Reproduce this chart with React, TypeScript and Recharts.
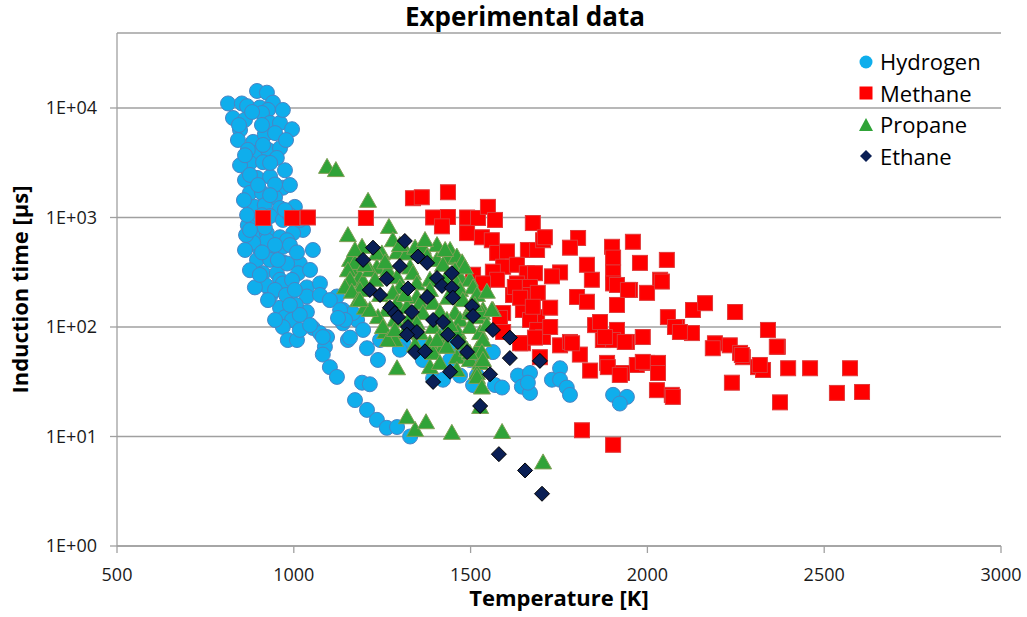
import React from 'react'
import { ScatterChart, Scatter, XAxis, YAxis, CartesianGrid } from 'recharts'

// [temperature K, induction time µs]
const hydrogen: [number, number][] = [
  [896, 14300], [924, 13800], [814, 11000], [853, 11000], [868, 10400], [904, 10100], [941, 11200],
  [927, 9600], [828, 8100], [862, 7800], [910, 9000], [933, 7300], [961, 7300], [995, 6400],
  [848, 6300], [885, 4900], [918, 5700], [947, 5900], [896, 3900], [927, 4150], [961, 4300],
  [876, 3150], [913, 3200], [952, 3500], [975, 2700], [862, 2200], [896, 2300], [933, 2350],
  [969, 1870], [876, 1680], [910, 1680], [947, 1530], [1003, 1250], [890, 1250], [918, 1300],
  [961, 1220], [896, 950], [933, 1030], [969, 950], [1026, 770], [890, 690], [924, 720],
  [961, 660], [998, 720], [1054, 505], [899, 540], [938, 540], [969, 540], [896, 410],
  [933, 410], [969, 390], [1017, 380], [913, 310], [952, 310], [1012, 310], [924, 620],
  [981, 620], [885, 590], [981, 380], [961, 270], [933, 190], [969, 250], [1037, 230],
  [1074, 250], [961, 150], [1037, 190], [1074, 196], [975, 123], [995, 116], [969, 100],
  [1037, 137], [983, 76], [1009, 76], [1054, 98], [1074, 88], [1094, 81], [1088, 66],
  [1082, 56], [1102, 43], [1122, 35], [1122, 190], [1150, 134], [1179, 116], [1196, 94],
  [1153, 76], [1207, 64], [1193, 31], [1215, 30], [1173, 21.5], [1207, 17.5], [1235, 14.2],
  [1139, 143], [1167, 134], [1263, 12], [1292, 12.2], [1329, 10], [1082, 81], [1159, 80],
  [1238, 50], [1244, 76], [1139, 108], [1309, 72], [1300, 62], [1365, 50], [1394, 34],
  [1422, 33], [1470, 36], [1518, 36], [1507, 29.5], [1563, 59], [1569, 29.5], [1589, 28],
  [1634, 36], [1645, 28.5], [1668, 38], [1668, 25], [1662, 31], [1730, 33], [1753, 42],
  [1753, 33], [1772, 28], [1781, 24], [1903, 24], [1942, 23], [1922, 20],
  [842, 5100], [870, 4150], [910, 7000], [848, 3000], [876, 2450], [947, 2000], [910, 1050],
  [870, 850], [989, 1050], [989, 560], [862, 505], [876, 330], [921, 240], [947, 218],
  [978, 196], [1006, 159], [1017, 129], [1102, 176], [1131, 143], [1145, 116], [1125, 121],
  [1428, 85], [1456, 68], [1498, 50], [1442, 50], [1357, 76],
  [845, 6990], [882, 9190], [969, 9600], [978, 5100], [913, 4600], [862, 3700], [933, 3150],
  [989, 1980], [899, 1980], [859, 1440], [933, 1600], [975, 1170], [868, 1054], [1017, 948],
  [918, 810], [947, 561], [910, 480], [1009, 480], [865, 692], [995, 269], [890, 230],
  [927, 176], [904, 299], [989, 159], [947, 116], [1017, 94], [1046, 104], [1003, 218],
  [1046, 332], [955, 409], [876, 769],
]

const methane: [number, number][] = [
  [913, 990], [995, 990], [1040, 1000], [1204, 990], [1337, 1500], [1362, 1530], [1436, 1700],
  [1394, 1000], [1436, 1010], [1419, 830], [1490, 1000], [1521, 990], [1549, 1250], [1569, 950],
  [1676, 890], [1490, 720], [1532, 660], [1560, 620], [1575, 475], [1603, 490], [1662, 505],
  [1688, 505], [1705, 620], [1592, 355], [1631, 370], [1659, 310], [1682, 310], [1507, 300],
  [1563, 320], [1575, 270], [1631, 250], [1668, 232], [1620, 196], [1659, 196], [1690, 205],
  [1592, 134], [1583, 121], [1648, 143], [1688, 123], [1668, 116], [1688, 94], [1648, 71],
  [1705, 81], [1696, 53], [1710, 660], [1804, 650], [1900, 540], [1959, 600], [1781, 530],
  [1903, 430], [1979, 385], [2055, 410], [1753, 315], [1829, 370], [1903, 315], [1730, 290],
  [1843, 270], [1903, 250], [2036, 270], [1535, 250], [1625, 232], [1951, 218], [1640, 185],
  [1676, 153], [1725, 150], [1801, 188], [1829, 170], [1914, 159], [1999, 205], [2129, 143],
  [1852, 104], [1914, 94], [2058, 123], [2084, 100], [2126, 88], [1592, 90], [1682, 80],
  [1725, 100], [1753, 68], [1781, 73], [1874, 76], [1903, 76], [1942, 73], [1987, 81],
  [1640, 71], [1809, 56], [1886, 47], [1970, 45], [1999, 47], [2030, 47], [1928, 38],
  [1838, 40], [2027, 26.5], [2069, 24], [1914, 242], [1945, 218], [2041, 260], [2163, 165],
  [2248, 137], [1866, 111], [1880, 81], [1936, 73], [2078, 100], [2092, 90], [2341, 94],
  [2191, 71], [2185, 64], [2233, 68], [2262, 58], [2270, 53], [2369, 66], [1888, 43],
  [1922, 36.5], [1987, 48], [2030, 38], [2313, 43], [2327, 40.5], [2398, 42], [2460, 42],
  [2573, 42], [2239, 31], [2072, 23], [2375, 20.5], [2536, 25], [2607, 25.5], [1815, 11.4],
  [1903, 8.4], [1787, 71], [2267, 55.5], [2318, 45], [2366, 66],
]

const propane: [number, number][] = [
  [1094, 2900], [1119, 2710], [1210, 1420], [1153, 690], [1269, 820], [1193, 540], [1249, 470],
  [1280, 620], [1159, 410], [1167, 330], [1173, 385], [1235, 470], [1292, 480], [1320, 470],
  [1343, 530], [1365, 530], [1405, 560], [1442, 505], [1153, 330], [1187, 285], [1235, 350],
  [1266, 330], [1329, 350], [1377, 440], [1405, 410], [1433, 425], [1461, 440], [1476, 390],
  [1159, 270], [1196, 260], [1292, 285], [1337, 310], [1422, 370], [1456, 330], [1470, 285],
  [1145, 230], [1187, 218], [1300, 230], [1348, 250], [1385, 270], [1428, 270], [1461, 250],
  [1498, 270], [1244, 196], [1280, 205], [1348, 188], [1385, 218], [1470, 218], [1507, 230],
  [1292, 166], [1320, 152], [1357, 166], [1394, 166], [1436, 185], [1478, 176], [1518, 196],
  [1263, 143], [1329, 123], [1365, 134], [1413, 137], [1456, 134], [1493, 134], [1546, 210],
  [1563, 143], [1238, 123], [1286, 116], [1348, 108], [1394, 100], [1433, 116], [1470, 116],
  [1518, 123], [1535, 143], [1258, 90], [1314, 90], [1357, 88], [1413, 81], [1464, 90],
  [1498, 100], [1527, 88], [1286, 76], [1385, 71], [1422, 66], [1478, 71], [1518, 62],
  [1535, 76], [1292, 42], [1394, 58], [1461, 53], [1498, 50], [1527, 47], [1385, 43],
  [1518, 38], [1252, 100], [1266, 76], [1320, 15], [1343, 11.5], [1374, 13.5], [1447, 10.8],
  [1518, 35], [1532, 28], [1527, 18.6], [1589, 11], [1705, 5.8], [1405, 76], [1433, 66],
  [1413, 47], [1461, 40.5], [1490, 62], [1532, 59], [1535, 50], [1532, 134], [1560, 143],
  [1498, 134], [1498, 58], [1164, 210], [1182, 176], [1201, 150], [1215, 330], [1230, 270],
  [1173, 505], [1201, 368], [1258, 390], [1300, 561], [1371, 623], [1428, 505], [1484, 350],
  [1512, 159], [1314, 196], [1286, 94], [1343, 68.5], [1442, 104], [1546, 104], [1215, 143],
  [1187, 176],
]

const ethane: [number, number][] = [
  [1224, 530], [1314, 610], [1196, 410], [1300, 360], [1351, 440], [1377, 385], [1447, 310],
  [1263, 275], [1215, 218], [1244, 196], [1323, 225], [1405, 280], [1419, 237], [1447, 228],
  [1450, 185], [1272, 150], [1286, 134], [1295, 123], [1334, 137], [1377, 188], [1504, 155],
  [1507, 126], [1394, 116], [1422, 111], [1323, 100], [1348, 90], [1320, 85], [1436, 85],
  [1464, 73], [1490, 59], [1563, 94], [1611, 80], [1611, 52], [1696, 49], [1343, 59],
  [1371, 60], [1442, 39], [1555, 37], [1394, 31.5], [1527, 19], [1580, 6.9], [1654, 4.9],
  [1702, 3.0],
]

const xTicks = [500, 1000, 1500, 2000, 2500, 3000]
const yTicks = [1, 10, 100, 1000, 10000]

const toPoints = (arr: [number, number][]) => arr.map(([x, y]) => ({ x, y }))

const FONT = '"Open Sans", "DejaVu Sans", sans-serif'
const AXIS = '#a0a0a0'

const HydrogenDot = (p: any) => (
  <circle cx={p.cx} cy={p.cy} r={7.5} fill="#0FAEEC" stroke="#4A84C4" strokeWidth={1} />
)
const MethaneDot = (p: any) => (
  <rect x={p.cx - 7.5} y={p.cy - 7.5} width={15} height={15} fill="#FF0000" stroke="#E03A3A" strokeWidth={1} />
)
const PropaneDot = (p: any) => (
  <polygon
    points={`${p.cx},${p.cy - 8.5} ${p.cx + 8.5},${p.cy + 6.5} ${p.cx - 8.5},${p.cy + 6.5}`}
    fill="#30A338"
    stroke="#7F9F55"
    strokeWidth={1}
  />
)
const EthaneDot = (p: any) => (
  <polygon
    points={`${p.cx},${p.cy - 7.5} ${p.cx + 7.5},${p.cy} ${p.cx},${p.cy + 7.5} ${p.cx - 7.5},${p.cy}`}
    fill="#0A1F55"
    stroke="#000"
    strokeWidth={1}
  />
)

const legendItems = [
  { name: 'Hydrogen', icon: <circle cx={8} cy={8} r={6.5} fill="#0FAEEC" /> },
  { name: 'Methane', icon: <rect x={1.5} y={1.5} width={13} height={13} fill="#FF0000" /> },
  { name: 'Propane', icon: <polygon points="8,1 15,14 1,14" fill="#30A338" /> },
  { name: 'Ethane', icon: <polygon points="8,2 14,8 8,14 2,8" fill="#0A1F55" /> },
]

export default function App() {
  return (
    <div style={{ position: 'absolute', left: 0, top: 0, width: 1027, height: 617, background: '#fff', fontFamily: FONT }}>
      <div
        style={{
          position: 'absolute', left: 0, width: 1050, top: 0, textAlign: 'center',
          fontSize: 26, fontWeight: 700, color: '#000', lineHeight: '32px',
        }}
      >
        Experimental data
      </div>

      <ScatterChart width={1027} height={617} margin={{ top: 33, right: 26, bottom: 0, left: 0 }}>
        <CartesianGrid vertical={false} stroke={AXIS} strokeWidth={1.3} />
        <XAxis
          type="number"
          dataKey="x"
          domain={[500, 3000]}
          ticks={xTicks}
          height={71}
          tickSize={7}
          tickMargin={15}
          stroke={AXIS}
          strokeWidth={1.3}
          tick={{ fill: '#1a1a1a', fontSize: 18, fontFamily: FONT }}
          label={{
            value: 'Temperature [K]', position: 'insideBottom', offset: 11,
            style: { fontSize: 22, fontWeight: 700, fill: '#000', fontFamily: FONT },
          }}
        />
        <YAxis
          type="number"
          dataKey="y"
          scale="log"
          domain={[1, 48400]}
          ticks={yTicks}
          width={117}
          tickSize={7}
          tickMargin={13}
          stroke={AXIS}
          strokeWidth={1.3}
          allowDataOverflow
          tickFormatter={(v: number) => `1E+0${Math.round(Math.log10(v))}`}
          tick={{ fill: '#1a1a1a', fontSize: 18, fontFamily: FONT }}
          label={{
            value: 'Induction time [µs]', angle: -90, position: 'insideLeft', offset: 20,
            style: { textAnchor: 'middle', fontSize: 22, fontWeight: 700, fill: '#000', fontFamily: FONT },
          }}
        />
        <Scatter name="Hydrogen" data={toPoints(hydrogen)} shape={HydrogenDot} isAnimationActive={false} />
        <Scatter name="Methane" data={toPoints(methane)} shape={MethaneDot} isAnimationActive={false} />
        <Scatter name="Propane" data={toPoints(propane)} shape={PropaneDot} isAnimationActive={false} />
        <Scatter name="Ethane" data={toPoints(ethane)} shape={EthaneDot} isAnimationActive={false} />
      </ScatterChart>

      {/* Legend */}
      <div style={{ position: 'absolute', left: 858, top: 46 }}>
        {legendItems.map((item) => (
          <div key={item.name} style={{ display: 'flex', alignItems: 'center', height: 31.5 }}>
            <svg width={16} height={16} style={{ marginRight: 6 }}>{item.icon}</svg>
            <span style={{ fontSize: 22, color: '#000', lineHeight: '31px' }}>{item.name}</span>
          </div>
        ))}
      </div>
    </div>
  )
}
